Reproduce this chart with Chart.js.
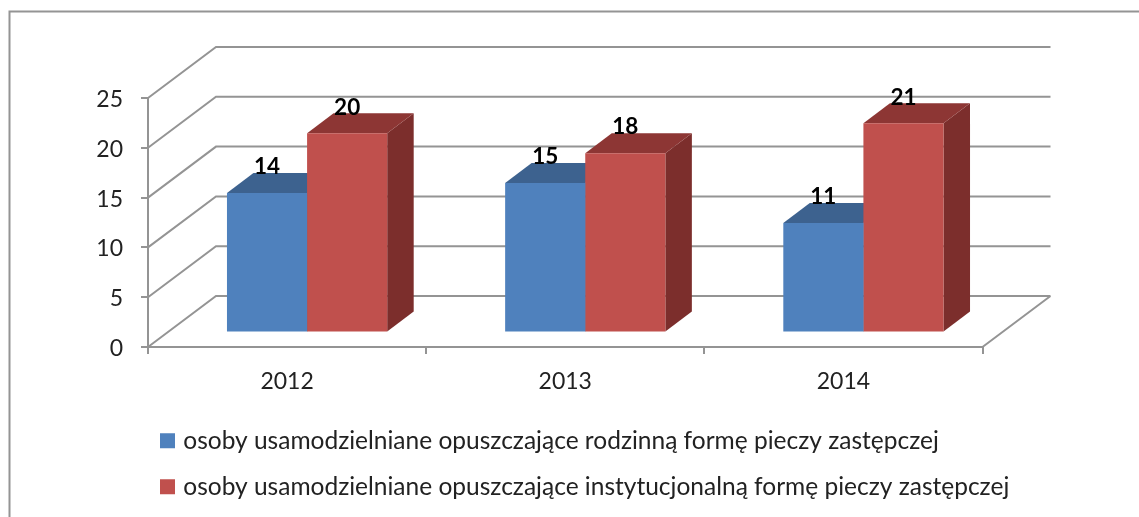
<!DOCTYPE html>
<html>
<head>
<meta charset="utf-8">
<script src="https://cdn.jsdelivr.net/npm/chart.js@4"></script>
<style>
html, body { margin: 0; padding: 0; background: #fff; overflow: hidden; }
canvas { display: block; }
</style>
</head>
<body>
<canvas id="chart" width="1139" height="517"></canvas>
<script>
const years = ["2012", "2013", "2014"];
const rodzinna = [14, 15, 11];
const instytucjonalna = [20, 18, 21];
const seriesNames = [
    "osoby usamodzielniane opuszczające rodzinną formę pieczy zastępczej",
    "osoby usamodzielniane opuszczające instytucjonalną formę pieczy zastępczej"
];

const gridColor = "#949494";
const fontName = "Lato, 'Noto Sans', sans-serif";

// depth of the fake 3d box: wall behind the plot, offset of the bars, depth of a bar
const wall = {dx: 68, dy: 51};
const shift = {dx: 20, dy: 14.5};
const depth = {dx: 26.5, dy: 20};

const faces = [
    {top: "#3d628f", side: "#375a84"},
    {top: "#8d3634", side: "#7c2e2c"}
];

function poly(ctx, pts, color) {
    ctx.fillStyle = color;
    ctx.beginPath();
    pts.forEach((p, i) => i ? ctx.lineTo(p[0], p[1]) : ctx.moveTo(p[0], p[1]));
    ctx.closePath();
    ctx.fill();
}

const box3d = {
    id: "box3d",
    beforeDraw(chart) {
        // frame is only visible on the left and top, the rest is cropped away
        const ctx = chart.ctx;
        ctx.save();
        ctx.strokeStyle = gridColor;
        ctx.lineWidth = 2;
        ctx.beginPath();
        ctx.moveTo(9.5, 517);
        ctx.lineTo(9.5, 11.5);
        ctx.lineTo(1139, 11.5);
        ctx.stroke();
        ctx.restore();
    },
    afterLayout(chart) {
        // legend sits below the plot; bottom past the canvas or it wraps to a second column
        const lg = chart.legend;
        lg.left = 142.5;
        lg.right = 1139;
        lg.top = 407;
        lg.bottom = 600;
    },
    beforeDatasetsDraw(chart) {
        const ctx = chart.ctx, y = chart.scales.y, a = chart.chartArea;
        ctx.save();
        ctx.strokeStyle = gridColor;
        ctx.lineWidth = 2;
        ctx.beginPath();
        y.ticks.forEach(t => {
            const py = y.getPixelForValue(t.value);
            ctx.moveTo(a.left, py);
            ctx.lineTo(a.left + wall.dx, py - wall.dy);
            ctx.lineTo(a.right + wall.dx, py - wall.dy);
        });
        ctx.moveTo(a.right, a.bottom);
        ctx.lineTo(a.right + wall.dx, a.bottom - wall.dy);
        ctx.stroke();
        ctx.restore();

        // tops and sides go under the front faces
        ctx.save();
        ctx.translate(shift.dx, -shift.dy);
        chart.data.datasets.forEach((ds, i) => {
            chart.getDatasetMeta(i).data.forEach(bar => {
                const l = bar.x - bar.width / 2, r = bar.x + bar.width / 2;
                poly(ctx, [[r, bar.y], [r + depth.dx, bar.y - depth.dy], [r + depth.dx, bar.base - depth.dy], [r, bar.base]], faces[i].side);
                poly(ctx, [[l, bar.y], [l + depth.dx, bar.y - depth.dy], [r + depth.dx, bar.y - depth.dy], [r, bar.y]], faces[i].top);
            });
        });
        ctx.restore();
        ctx.save();
        ctx.translate(shift.dx, -shift.dy);
    },
    afterDatasetsDraw(chart) {
        const ctx = chart.ctx;
        ctx.restore();
        ctx.save();
        ctx.fillStyle = "#000";
        ctx.font = "bold 22.5px " + fontName;
        ctx.textAlign = "center";
        ctx.textBaseline = "middle";
        chart.data.datasets.forEach((ds, i) => {
            chart.getDatasetMeta(i).data.forEach((bar, j) => {
                ctx.fillText(ds.data[j], bar.x + shift.dx, bar.y - shift.dy - 26);
            });
        });
        ctx.restore();
    }
};

new Chart(document.getElementById("chart"), {
    type: "bar",
    data: {
        labels: years,
        datasets: [
            {label: seriesNames[0], data: rodzinna, backgroundColor: "#4f81bd"},
            {label: seriesNames[1], data: instytucjonalna, backgroundColor: "#c0504d"}
        ]
    },
    options: {
        responsive: false,
        animation: false,
        layout: {padding: {top: 98, right: 156.5}},
        categoryPercentage: 0.576,
        barPercentage: 1,
        scales: {
            x: {
                afterFit: s => { s.height = 170; },
                grid: {offset: true, drawOnChartArea: false, color: gridColor, lineWidth: 2, tickLength: 7},
                border: {color: gridColor, width: 2},
                ticks: {color: "#222", padding: 14, font: {family: fontName, size: 23}}
            },
            y: {
                min: 0,
                max: 25,
                afterFit: s => { s.width = 148; },
                grid: {drawOnChartArea: false, color: gridColor, lineWidth: 2, tickLength: 7},
                border: {color: gridColor, width: 2},
                ticks: {stepSize: 5, color: "#222", padding: 18, labelOffset: 1.5, font: {family: fontName, size: 23}}
            }
        },
        plugins: {
            tooltip: {enabled: false},
            legend: {
                position: "chartArea",
                align: "start",
                labels: {
                    // small box with a thick outline, keeps the text close to the swatch
                    boxWidth: 7,
                    boxHeight: 7,
                    padding: 21.5,
                    color: "#222",
                    font: {family: fontName, size: 24.5},
                    generateLabels(chart) {
                        return Chart.defaults.plugins.legend.labels.generateLabels(chart).map(item => {
                            item.strokeStyle = item.fillStyle;
                            item.lineWidth = 8;
                            return item;
                        });
                    }
                }
            }
        }
    },
    plugins: [box3d]
});
</script>
</body>
</html>
